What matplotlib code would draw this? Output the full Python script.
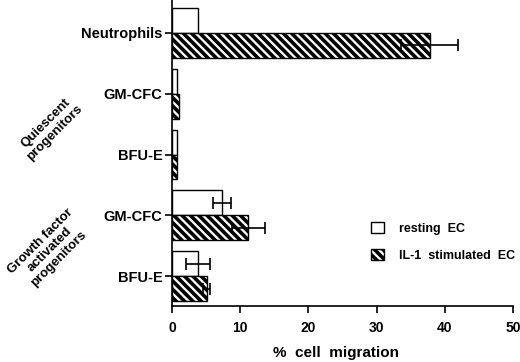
import matplotlib
matplotlib.use("Agg")
import matplotlib.pyplot as plt
import numpy as np

categories = ["Neutrophils", "GM-CFC", "BFU-E", "GM-CFC", "BFU-E"]
resting = [3.8, 0.7, 0.8, 7.3, 3.8]
resting_err = [0, 0, 0, 1.3, 1.8]
il1 = [37.8, 1.0, 0.7, 11.2, 5.1]
il1_err = [4.2, 0, 0, 2.4, 0.5]
xticks = [0, 10, 20, 30, 40, 50]
group_labels = ["Quiescent\nprogenitors", "Growth factor\nactivated\nprogenitors"]
legend_labels = ["resting  EC", "IL-1  stimulated  EC"]

plt.rcParams['font.family'] = ['Liberation Sans', 'DejaVu Sans']
plt.rcParams['font.weight'] = 'bold'
plt.rcParams['hatch.linewidth'] = 2.6

fig = plt.figure(figsize=(5.2, 3.62), dpi=100)
ax = fig.add_axes([172/520, 56/362, 341/520, 306/362])

ypos = np.arange(len(categories))[::-1].astype(float)
h = 0.41

b1 = ax.barh(ypos + h/2, resting, height=h, color='white', edgecolor='black', linewidth=1.0,
             label=legend_labels[0])
b2 = ax.barh(ypos - h/2, il1, height=h, color='white', edgecolor='black', linewidth=1.0,
             hatch='\\\\\\\\', label=legend_labels[1])
for y, v, e in zip(ypos + h/2, resting, resting_err):
    if e > 0:
        ax.errorbar(v, y, xerr=e, fmt='none', ecolor='black', elinewidth=1.2, capsize=4, capthick=1.2)
for y, v, e in zip(ypos - h/2, il1, il1_err):
    if e > 0:
        ax.errorbar(v, y, xerr=e, fmt='none', ecolor='black', elinewidth=1.2, capsize=4, capthick=1.2)

ax.set_xlim(0, 50)
ax.set_ylim(-0.49, 4.54)
ax.set_xticks(xticks)
ax.set_xticklabels([str(t) for t in xticks], fontsize=10, fontweight='bold')
ax.set_yticks(ypos)
ax.set_yticklabels(categories, fontsize=10.5, fontweight='bold')
ax.tick_params(axis='both', direction='out', length=5, width=1.2, color='black')
ax.tick_params(axis='x', pad=6)
ax.tick_params(axis='y', pad=2)
for s in ['top', 'right']:
    ax.spines[s].set_visible(False)
for s in ['left', 'bottom']:
    ax.spines[s].set_linewidth(1.2)

fig.text(336/520, 1 - 353/362, "%  cell  migration", ha='center', va='center', fontsize=11, fontweight='bold')

fig.text(50/520, 1 - 128/362, group_labels[0], ha='center', va='center', rotation=45,
         fontsize=9.5, fontweight='bold', linespacing=1.1)
fig.text(50/520, 1 - 250/362, group_labels[1], ha='center', va='center', rotation=45,
         fontsize=9.5, fontweight='bold', linespacing=1.1)

leg = fig.legend(handles=[b1, b2], labels=legend_labels, loc='upper left',
                 bbox_to_anchor=(360/520, 1 - 211/362), frameon=False,
                 handlelength=1.0, handleheight=1.0, handletextpad=1.2, labelspacing=1.1,
                 prop={'weight': 'bold', 'size': 9})

fig.savefig("out.png", dpi=100)
